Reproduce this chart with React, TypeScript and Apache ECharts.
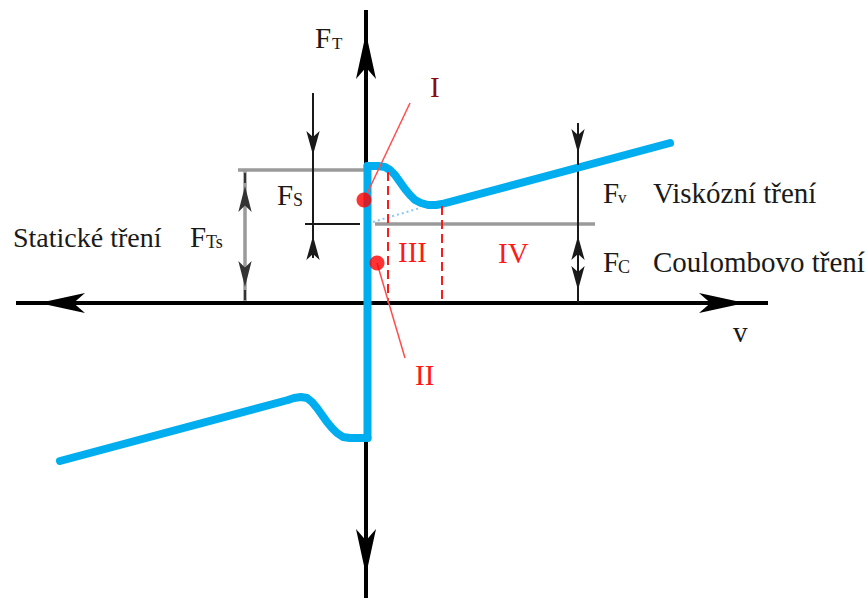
import React, { useEffect, useRef } from 'react';
import * as echarts from 'echarts';

// Stribeck friction characteristic F_T(v), pairs of [v, F_T]
const negativeBranch: [number, number][] = [
  [-30.6, -15.8], [-7.8, -9.7], [-7.2, -9.5], [-6.5, -9.4], [-5.9, -9.5],
  [-5.4, -9.9], [-4.9, -10.5], [-4.4, -11.2], [-3.9, -11.9], [-3.4, -12.5],
  [-2.9, -13.0], [-2.3, -13.4], [-1.6, -13.5], [0.15, -13.5],
];
const stictionJump: [number, number][] = [[0.15, -13.5], [0.15, 13.7]];
const positiveBranch: [number, number][] = [
  [0.15, 13.7], [1.2, 13.7], [1.9, 13.6], [2.4, 13.3], [2.9, 12.8],
  [3.4, 12.1], [3.9, 11.4], [4.4, 10.8], [4.9, 10.3], [5.5, 10.0],
  [6.2, 9.8], [7.0, 9.8], [7.6, 9.9], [30.4, 16.0],
];

// characteristic levels
const staticLevel = 13.3;   // F_Ts
const coulombLevel = 7.9;   // F_C
const curveAtViscousArrow = 13.8;

// axis extents [min, max]
const vAxisSpan = [-35.0, 40.2];
const fAxisSpan = [-29.5, 29.3];

// dimension arrows: velocity where they stand
const vStatic = -12.1;
const vStribeck = -5.3;
const vViscous = 21.2;

// region boundaries (III | IV) and the Stribeck start
const regionBounds: [number, number][] = [[2.2, 13.1], [7.6, 9.7]];
// region markers I, II and their leader ends
const regionDots: [number, number][] = [[-0.2, 10.3], [1.1, 4.0]];
const leaderEnds: [number, number][] = [[4.4, 20.0], [3.9, -5.5]];
// extrapolated viscous line back to v = 0
const viscousExtrapolation: [number, number][] = [[0.7, 8.1], [5.4, 9.5]];

const FONT = '"Liberation Serif", "Times New Roman", serif';
const BLUE = '#00aeef';
const INK = '#1a1a1a';
const GREY = '#9a9a9a';
const RED = '#ff1a1a';
const DARK_RED = '#8b0d0d';

type P = [number, number];
const seg = (a: P, b: P) => [{ coord: a }, { coord: b }];

function lineGroup(
  z: number,
  data: any[],
  lineStyle: any,
  symbol: string[] = ['none', 'none'],
  symbolSize: number[] = [10, 24]
) {
  return {
    type: 'line',
    data: [],
    silent: true,
    z,
    markLine: {
      silent: true,
      z,
      animation: false,
      symbol,
      symbolSize,
      symbolOffset: [[0, '50%'], [0, '50%']],
      label: { show: false },
      emphasis: { disabled: true },
      lineStyle,
      data,
    },
  };
}

function txt(text: string, x: number, baseline: number, size: number, color = INK) {
  return {
    type: 'text',
    x,
    y: baseline - size * 0.34,
    silent: true,
    z: 20,
    style: {
      text,
      fill: color,
      font: `${size}px ${FONT}`,
      textAlign: 'left',
      textVerticalAlign: 'middle',
      align: 'left',
      verticalAlign: 'middle',
    },
  };
}

// head = short segment ending at the arrow tip
const head = (v: number, tip: number, dir: 1 | -1) => seg([v, tip - dir * 1], [v, tip]);

export default function App() {
  const ref = useRef<HTMLDivElement>(null);

  useEffect(() => {
    if (!ref.current) return;
    const chart = echarts.init(ref.current, undefined, { renderer: 'svg' });
    const blueLine = {
      color: BLUE,
      width: 8,
      cap: 'round',
      join: 'round',
    };
    const curve = (data: [number, number][]) => ({
      type: 'line',
      data,
      symbol: 'none',
      silent: true,
      z: 3,
      lineStyle: blueLine,
    });
    chart.setOption({
      animation: false,
      grid: { left: 0, right: 0, top: 0, bottom: 0 },
      xAxis: { type: 'value', min: -36.6, max: 50, show: false },
      yAxis: { type: 'value', min: -29.6, max: 30.3, show: false },
      series: [
        // coordinate axes with arrowheads on both ends
        lineGroup(
          1,
          [
            seg([vAxisSpan[0], 0], [vAxisSpan[1], 0]),
            seg([0, fAxisSpan[1]], [0, fAxisSpan[0]]),
          ],
          { color: '#000', width: 4, type: 'solid' },
          ['arrow', 'arrow'],
          [15, 46]
        ),
        // grey reference levels and the F_Ts dimension line
        lineGroup(
          2,
          [
            seg([-12.8, staticLevel], [0, staticLevel]),
            seg([0.9, coulombLevel], [22.9, coulombLevel]),
            seg([vStatic, staticLevel], [vStatic, 0.2]),
          ],
          { color: GREY, width: 3.5, type: 'solid' }
        ),
        // thin black dimension lines
        lineGroup(
          2,
          [
            seg([-6.1, coulombLevel], [-0.6, coulombLevel]),
            seg([vStribeck, 21.0], [vStribeck, 4.5]),
            seg([vViscous, 18.0], [vViscous, 0.1]),
          ],
          { color: INK, width: 2, type: 'solid' }
        ),
        // arrowheads of the dimension lines
        lineGroup(
          4,
          [
            head(vStribeck, staticLevel + 0.3, -1),
            head(vStribeck, coulombLevel, 1),
            head(vViscous, curveAtViscousArrow, -1),
            head(vViscous, coulombLevel, 1),
            head(vViscous, 0.1, -1),
          ],
          { color: INK, width: 2, type: 'solid' },
          ['none', 'arrow'],
          [10, 24]
        ),
        lineGroup(
          4,
          [head(vStatic, staticLevel - 0.3, 1), head(vStatic, 0.3, -1)],
          { color: '#333', width: 2, type: 'solid' },
          ['none', 'arrow'],
          [10, 26]
        ),
        // Stribeck curve
        curve(negativeBranch),
        curve(stictionJump),
        curve(positiveBranch),
        // extrapolated viscous friction
        lineGroup(
          4,
          [seg(viscousExtrapolation[0], viscousExtrapolation[1])],
          { color: '#8cc6f2', width: 2, type: [2, 3] }
        ),
        // region boundaries
        lineGroup(
          6,
          regionBounds.map((p) => seg(p, [p[0], 0])),
          { color: RED, width: 2, type: [9, 5] }
        ),
        // leaders for the region markers
        lineGroup(
          6,
          regionDots.map((p, i) => seg(p, leaderEnds[i])),
          { color: '#ff4d4d', width: 1.5, type: 'solid' }
        ),
        {
          type: 'scatter',
          data: regionDots,
          symbolSize: 15,
          silent: true,
          z: 8,
          itemStyle: { color: '#ff0000' },
        },
      ],
      graphic: [
        txt('F', 315, 48, 29),
        txt('T', 332, 49, 17),
        txt('Statické tření', 13, 247, 28),
        txt('F', 190, 247, 29),
        txt('Ts', 206, 248, 18),
        txt('F', 277, 205, 29),
        txt('S', 293, 206, 18),
        txt('F', 603, 203, 29),
        txt('v', 618, 203, 17),
        txt('Viskózní tření', 653, 203, 29),
        txt('F', 603, 272, 29),
        txt('C', 618, 273, 18),
        txt('Coulombovo tření', 653, 272, 29),
        txt('v', 733, 342, 29),
        txt('I', 430, 97, 29, DARK_RED),
        txt('II', 415, 385, 29, RED),
        txt('III', 398, 262, 29, RED),
        txt('IV', 498, 263, 29, RED),
      ],
    });
    return () => chart.dispose();
  }, []);

  return (
    <div
      ref={ref}
      style={{ position: 'fixed', left: 0, top: 0, width: 866, height: 599, background: '#fff' }}
    />
  );
}
